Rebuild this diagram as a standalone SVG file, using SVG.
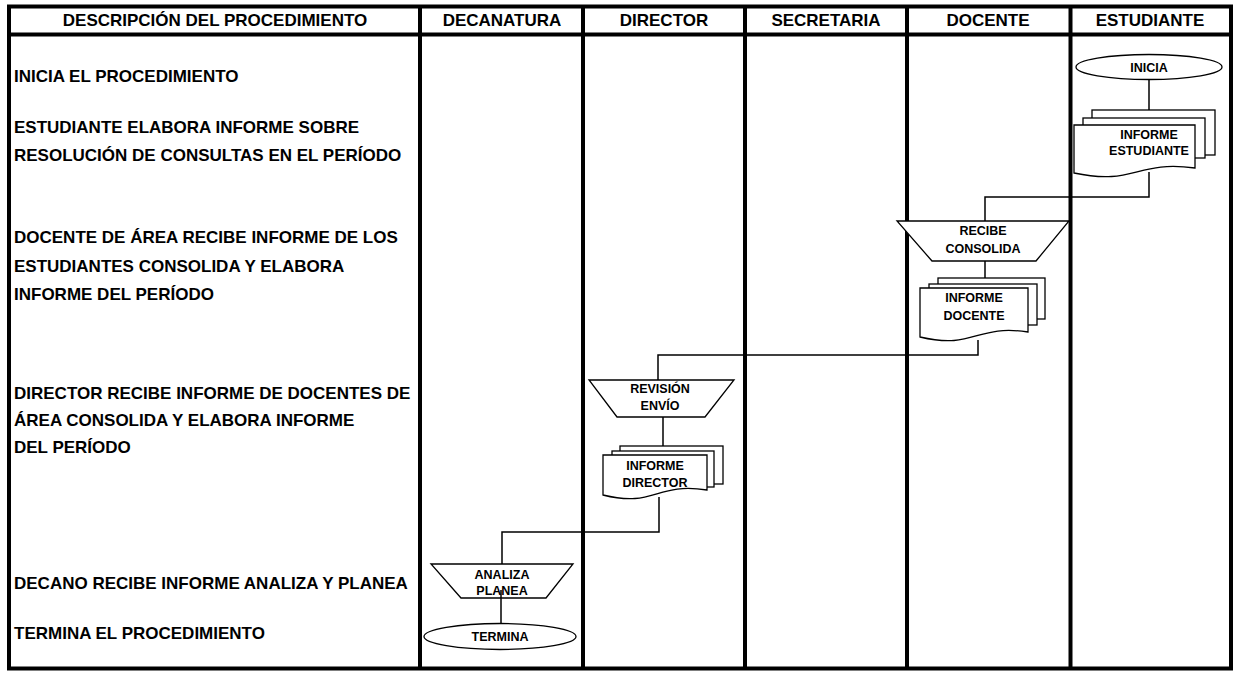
<svg xmlns="http://www.w3.org/2000/svg" width="1235" height="673" viewBox="0 0 1235 673">
<style>
.hdr{font-family:"Liberation Sans",Arial,sans-serif;font-weight:bold;font-size:17px;fill:#000;text-anchor:middle}
.desc{font-family:"Liberation Sans",Arial,sans-serif;font-weight:bold;font-size:17px;fill:#000}
.lbl{font-family:"Liberation Sans",Arial,sans-serif;font-weight:bold;font-size:12.5px;fill:#000;text-anchor:middle}
.shape{fill:#fff;stroke:#000;stroke-width:1.3}
.conn{fill:none;stroke:#000;stroke-width:1.5}
.grid{fill:none;stroke:#000;stroke-width:4}
</style>
<rect x="0" y="0" width="1235" height="673" fill="#fff"/>
<g id="table">
<rect class="grid" x="9" y="6.5" width="1222" height="662"/>
<line class="grid" x1="9" y1="34.5" x2="1231" y2="34.5"/>
<line class="grid" x1="420" y1="6.5" x2="420" y2="668.5"/>
<line class="grid" x1="583" y1="6.5" x2="583" y2="668.5"/>
<line class="grid" x1="745" y1="6.5" x2="745" y2="668.5"/>
<line class="grid" x1="907" y1="6.5" x2="907" y2="668.5"/>
<line class="grid" x1="1070.5" y1="6.5" x2="1070.5" y2="668.5"/>
<text class="hdr" x="215" y="26">DESCRIPCIÓN DEL PROCEDIMIENTO</text>
<text class="hdr" x="502" y="26">DECANATURA</text>
<text class="hdr" x="664" y="26">DIRECTOR</text>
<text class="hdr" x="826" y="26">SECRETARIA</text>
<text class="hdr" x="988" y="26">DOCENTE</text>
<text class="hdr" x="1150" y="26">ESTUDIANTE</text>
</g>
<g id="descriptions">
<text class="desc" x="14" y="82">INICIA EL PROCEDIMIENTO</text>
<text class="desc" x="14" y="133">ESTUDIANTE ELABORA INFORME SOBRE</text>
<text class="desc" x="14" y="161">RESOLUCIÓN DE CONSULTAS EN EL PERÍODO</text>
<text class="desc" x="14" y="243">DOCENTE DE ÁREA RECIBE INFORME DE LOS</text>
<text class="desc" x="14" y="272">ESTUDIANTES CONSOLIDA Y ELABORA</text>
<text class="desc" x="14" y="300">INFORME DEL PERÍODO</text>
<text class="desc" x="14" y="399">DIRECTOR RECIBE INFORME DE DOCENTES DE</text>
<text class="desc" x="14" y="426">ÁREA CONSOLIDA Y ELABORA INFORME</text>
<text class="desc" x="14" y="453">DEL PERÍODO</text>
<text class="desc" x="14" y="589">DECANO RECIBE INFORME ANALIZA Y PLANEA</text>
<text class="desc" x="14" y="639">TERMINA EL PROCEDIMIENTO</text>
</g>
<g id="connectors">
<line class="conn" x1="1149" y1="79" x2="1149" y2="110"/>
<polyline class="conn" points="1149,172 1149,197 985,197 985,221"/>
<line class="conn" x1="985" y1="261" x2="985" y2="278"/>
<polyline class="conn" points="978,340 978,355 658,355 658,380"/>
<line class="conn" x1="663" y1="417" x2="663" y2="446"/>
<polyline class="conn" points="659,497 659,532 502,532 502,564"/>
</g>
<g id="inicia">
<ellipse class="shape" cx="1149" cy="67" rx="73" ry="12.5"/>
<text class="lbl" x="1149" y="71.5">INICIA</text>
</g>
<g id="informe-estudiante">
<rect class="shape" x="1092" y="110" width="123" height="45"/>
<rect class="shape" x="1083" y="118" width="122" height="40"/>
<path class="shape" d="M1074,125 H1195 V168 C1135,160 1135,186 1074,173 Z"/>
<text class="lbl" x="1149" y="138.5">INFORME</text>
<text class="lbl" x="1149" y="154.5">ESTUDIANTE</text>
</g>
<g id="recibe-consolida">
<polygon class="shape" points="897,221 1069,221 1036,261 932,261"/>
<text class="lbl" x="983" y="234.5">RECIBE</text>
<text class="lbl" x="983" y="252.5">CONSOLIDA</text>
</g>
<g id="informe-docente">
<rect class="shape" x="938" y="278" width="107" height="41"/>
<rect class="shape" x="929" y="284" width="108" height="41"/>
<path class="shape" d="M920,288 H1028 V332 C975,324 975,350 920,337 Z"/>
<text class="lbl" x="974" y="301.5">INFORME</text>
<text class="lbl" x="974" y="319.5">DOCENTE</text>
</g>
<g id="revision-envio">
<polygon class="shape" points="589,380 734,380 705,417 617,417"/>
<text class="lbl" x="660" y="392.5">REVISIÓN</text>
<text class="lbl" x="660" y="409.5">ENVÍO</text>
</g>
<g id="informe-director">
<rect class="shape" x="620" y="446" width="103" height="38"/>
<rect class="shape" x="612" y="451" width="102" height="36"/>
<path class="shape" d="M603,455 H707 V490 C655,482 655,508 603,495 Z"/>
<text class="lbl" x="655" y="469.5">INFORME</text>
<text class="lbl" x="655" y="486.5">DIRECTOR</text>
</g>
<g id="analiza-planea">
<polygon class="shape" points="431,564 573,564 546,598 461,598"/>
<text class="lbl" x="502" y="578.5">ANALIZA</text>
<text class="lbl" x="502" y="594.5">PLANEA</text>
<line class="conn" x1="501" y1="590" x2="501" y2="623"/>
</g>
<g id="termina">
<ellipse class="shape" cx="500" cy="636.5" rx="76" ry="13"/>
<text class="lbl" x="500" y="641">TERMINA</text>
</g>
</svg>
